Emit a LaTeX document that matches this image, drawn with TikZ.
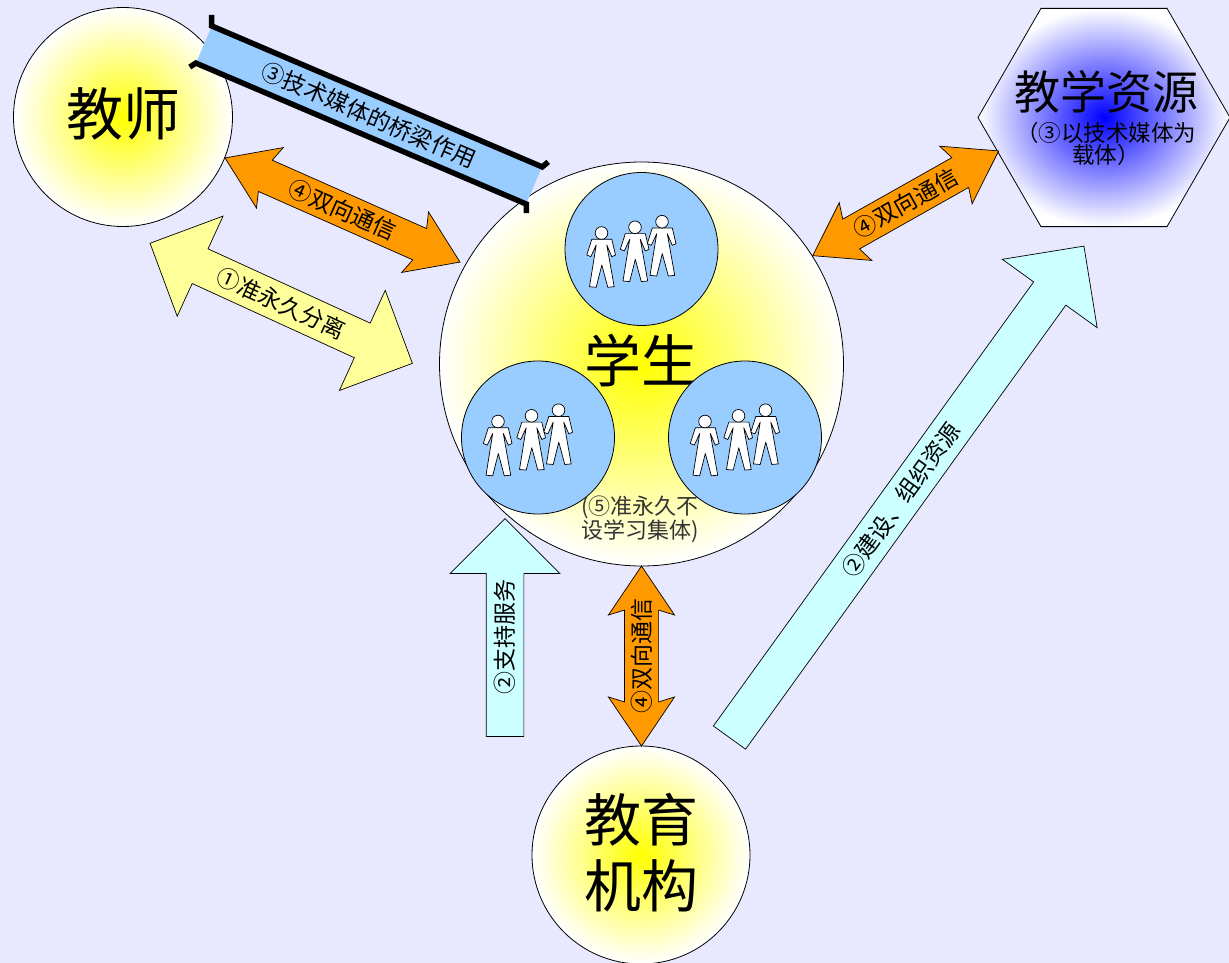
\documentclass[tikz,border=0pt]{standalone}
\usepackage{fontspec}
\setmainfont{Noto Sans CJK SC}
\usetikzlibrary{shapes.arrows,shapes.geometric}
\newcommand{\fsz}[1]{\fontsize{#1}{#1}\selectfont}

\begin{document}
\begin{tikzpicture}
  [x=1pt,y=-1pt]
      \tikzstyle{circle_style} = [circle, draw=black, line width=0.8, inner sep=0, inner color=yellow, outer color=white]
      \tikzstyle{big_text} = [font=\fsz{57}]
      \tikzstyle{group_style} = [circle, draw=black, line width=0.8, fill=group_blue, inner sep=0, minimum size=153]
      \tikzstyle{figure_style} = [draw=black, line width=0.7, fill=white, line join=round]
      \tikzstyle{orange_arrow} = [double arrow, draw=black, line width=0.7, fill=arrow_orange, inner sep=0, text height=25.5, text depth=8, minimum width=65.5, double arrow head extend=16, double arrow tip angle=68, double arrow head indent=5, font=\fsz{23}]
      \tikzstyle{pale_arrow} = [double arrow, draw=black, line width=0.7, fill=arrow_yellow, inner sep=0, text height=27.4, text depth=10, minimum width=109, double arrow head extend=36, double arrow tip angle=90, font=\fsz{23}]
      \tikzstyle{cyan_arrow} = [single arrow, draw=black, line width=0.7, fill=arrow_cyan, inner sep=0, single arrow tip angle=90, font=\fsz{23}]
      \tikzstyle{rail_style} = [draw=black, line width=5.5, line cap=butt, line join=miter]
  \definecolor{page_blue}{RGB}{232,232,255}
  \definecolor{group_blue}{RGB}{153,204,255}
  \definecolor{arrow_orange}{RGB}{255,153,0}
  \definecolor{arrow_yellow}{RGB}{255,255,153}
  \definecolor{arrow_cyan}{RGB}{204,255,255}
  \fill[page_blue] (0,0) rectangle (1229,963);
  \useasboundingbox (0,0) rectangle (1229,963);

  \node[circle_style, minimum size=219] (teacher) at (123,117) {};
  \node[big_text] (teacher_label) at (123,114) {教师};
  \node[circle_style, minimum size=404] (student) at (641.5,364) {};
  \node[big_text] (student_label) at (641,361) {学生};
  \begin{scope}
    \clip (0,0) rectangle (1229,963);
    \node[circle_style, minimum size=218] (school) at (641,855) {};
  \end{scope}
  \node[big_text] (school_top) at (641,820) {教育};
  \node[big_text] (school_bottom) at (641,886) {机构};
  \node[regular polygon, regular polygon sides=6, minimum size=252, inner sep=0, draw=black, line width=0.8, inner color=blue, outer color=white] (media) at (1104,117.5) {};
  \node[font=\fsz{46}] (media_title) at (1106,92) {教学资源};
  \node[font=\fsz{22.5}, align=center] (media_note) at (1106,144) {（③以技术媒体为\\载体）};

  % three study groups
  \node[group_style] (group_a) at (641.5,249) {};
  \node[group_style] (group_b) at (538,437.5) {};
  \node[group_style] (group_c) at (745,437.5) {};
  \foreach \cx/\cy in {641.5/249, 538/437.5, 745/437.5}
    \foreach \dx/\dy in {-40/-16, -6.5/-21.7, 20.5/-27.3} {
      \begin{scope}[shift={(\cx+\dx,\cy+\dy)}]
        \draw[figure_style] (-9.7,6.3) -- (10.3,6.3) -- (14,22) -- (10.3,23.7) -- (5.3,12) -- (12.7,53.7) -- (6.3,54.3) -- (0.3,32) -- (-5.3,54.3) -- (-12,53.7) -- (-5.3,12) -- (-10.7,23.7) -- (-14.7,22) -- cycle;
        \draw[figure_style] (0,0) circle (6.3);
      \end{scope}
    }
  \node[font=\fsz{22}, text=black!80, align=center] (group_note) at (640,519) {(⑤准永久不\\设学习集体)};

  % the bridge
  \node[rectangle, fill=group_blue, rotate=-23.1, minimum width=359, minimum height=40, inner sep=0, font=\fsz{23}] (bridge) at (369,115) {③技术媒体的桥梁作用};
  \draw[rail_style] (bridge.north west) ++(0,-11) -- (bridge.north west) -- (bridge.north east) -- +(6,-5);
  \draw[rail_style] (bridge.south west) ++(-6,4) -- (bridge.south west) -- (bridge.south east) -- +(0,9);

  % block arrows
  \node[orange_arrow, minimum height=257, rotate=-23.9] (talk_teacher) at (342.5,210) {④双向通信};
  \node[orange_arrow, minimum height=213.4, rotate=29.4] (talk_media) at (905.7,203.3) {④双向通信};
  \node[orange_arrow, minimum height=180, rotate=90] (talk_school) at (641.5,656) {④双向通信};
  \node[pale_arrow, minimum height=288.5, rotate=-24.6] (separate) at (281.2,303.3) {①准永久分离};
  \node[cyan_arrow, text height=27.2, text depth=9.8, minimum height=218, minimum width=109, single arrow head extend=36, rotate=90] (support) at (505,637) {②支持服务};
  \node[cyan_arrow, text height=28.2, text depth=10.8, minimum height=606, minimum width=116.3, single arrow head extend=38.6, rotate=54.2] (build) at (900.9,499.9) {②建设、组织资源};
\end{tikzpicture}
\end{document}
